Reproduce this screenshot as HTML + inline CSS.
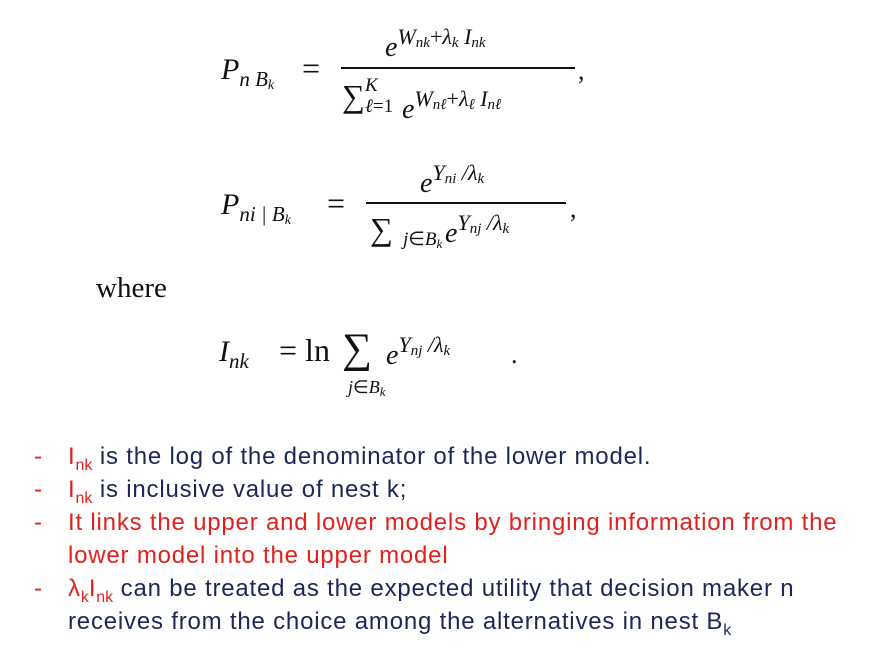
<!DOCTYPE html>
<html><head><meta charset="utf-8"><style>
body{margin:0;width:872px;height:653px;background:#fff;position:relative;overflow:hidden}
.m{position:absolute;font-family:"Liberation Serif",serif;color:#111;white-space:nowrap;line-height:1}
.i{font-style:italic}
.b{position:absolute;height:1.5px;background:#111}
.t{position:absolute;left:0;font-family:"Liberation Sans",sans-serif;font-size:24px;letter-spacing:0.8px;white-space:nowrap;line-height:1;color:#1c2756}
.r{color:#e3201c}
.d{position:absolute;left:34px}
.x{position:absolute;left:68px}
sub{font-size:16px;vertical-align:-6px;letter-spacing:0}
</style></head><body>
<!-- formula 1 -->
<div class="m i" style="left:221px;top:55px;font-size:30px">P<span style="font-size:21px;vertical-align:-7px">n B<sub style="font-size:14px;vertical-align:-3px">k</sub></span></div>
<div class="m" style="left:302px;top:52px;font-size:32px">=</div>
<div class="m i" style="left:385px;top:26px;font-size:28px">e<span style="font-size:22px;vertical-align:12px">W<sub style="font-size:15px;vertical-align:-3px">nk</sub><span style="font-style:normal">+</span>λ<sub style="font-size:15px;vertical-align:-3px">k</sub> I<sub style="font-size:15px;vertical-align:-3px">nk</sub></span></div>
<div class="b" style="left:341px;top:67px;width:234px"></div>
<div class="m" style="left:342px;top:80px;font-size:32px">∑</div>
<div class="m i" style="left:365px;top:76px;font-size:19px">K</div>
<div class="m i" style="left:365px;top:97px;font-size:19px">ℓ<span style="font-style:normal">=1</span></div>
<div class="m i" style="left:402px;top:88px;font-size:28px">e<span style="font-size:22px;vertical-align:12px">W<sub style="font-size:15px;vertical-align:-3px">nℓ</sub><span style="font-style:normal">+</span>λ<sub style="font-size:15px;vertical-align:-3px">ℓ</sub> I<sub style="font-size:15px;vertical-align:-3px">nℓ</sub></span></div>
<div class="m" style="left:578px;top:58px;font-size:26px">,</div>
<!-- formula 2 -->
<div class="m i" style="left:221px;top:190px;font-size:30px">P<span style="font-size:21px;vertical-align:-7px">ni | B<sub style="font-size:14px;vertical-align:-3px">k</sub></span></div>
<div class="m" style="left:327px;top:187px;font-size:32px">=</div>
<div class="m i" style="left:420px;top:162px;font-size:28px">e<span style="font-size:22px;vertical-align:12px">Y<sub style="font-size:15px;vertical-align:-3px">ni</sub> /λ<sub style="font-size:15px;vertical-align:-3px">k</sub></span></div>
<div class="b" style="left:366px;top:202px;width:200px"></div>
<div class="m" style="left:370px;top:213px;font-size:32px">∑</div>
<div class="m i" style="left:403px;top:230px;font-size:19px">j<span style="font-style:normal">∈</span>B<sub style="font-size:13px;vertical-align:-3px">k</sub></div>
<div class="m i" style="left:445px;top:212px;font-size:28px">e<span style="font-size:22px;vertical-align:12px">Y<sub style="font-size:15px;vertical-align:-3px">nj</sub> /λ<sub style="font-size:15px;vertical-align:-3px">k</sub></span></div>
<div class="m" style="left:570px;top:196px;font-size:26px">,</div>
<div class="m" style="left:96px;top:274px;font-size:29px">where</div>
<!-- formula 3 -->
<div class="m i" style="left:219px;top:337px;font-size:30px">I<span style="font-size:21px;vertical-align:-7px">nk</span></div>
<div class="m" style="left:279px;top:334px;font-size:32px">= ln</div>
<div class="m" style="left:342px;top:328px;font-size:42px">∑</div>
<div class="m i" style="left:348px;top:378px;font-size:18px">j<span style="font-style:normal">∈</span>B<sub style="font-size:13px;vertical-align:-3px">k</sub></div>
<div class="m i" style="left:386px;top:334px;font-size:28px">e<span style="font-size:22px;vertical-align:12px">Y<sub style="font-size:15px;vertical-align:-3px">nj</sub> /λ<sub style="font-size:15px;vertical-align:-3px">k</sub></span></div>
<div class="m" style="left:511px;top:342px;font-size:26px">.</div>
<!-- bullets -->
<div class="t" style="top:445px"><span class="d r">-</span><span class="x"><span class="r">I<sub>nk</sub></span> is the log of the denominator of the lower model.</span></div>
<div class="t" style="top:478px"><span class="d r">-</span><span class="x"><span class="r">I<sub>nk</sub></span> is inclusive value of nest k;</span></div>
<div class="t r" style="top:511px"><span class="d">-</span><span class="x">It links the upper and lower models by bringing information from the</span></div>
<div class="t r" style="top:544px"><span class="x">lower model into the upper model</span></div>
<div class="t" style="top:577px"><span class="d r">-</span><span class="x"><span class="r">λ<sub>k</sub>I<sub>nk</sub></span> can be treated as the expected utility that decision maker n</span></div>
<div class="t" style="top:610px"><span class="x">receives from the choice among the alternatives in nest B<sub>k</sub></span></div>
</body></html>
